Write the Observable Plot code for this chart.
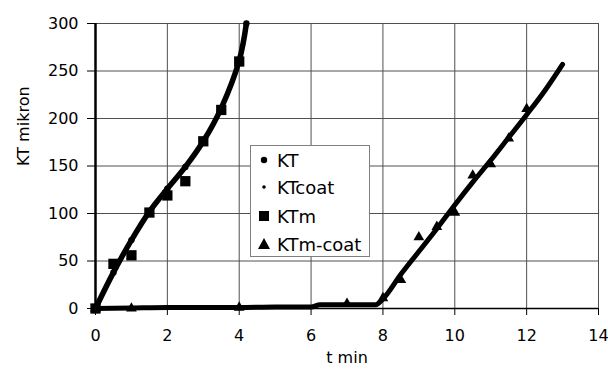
<!DOCTYPE html>
<html>
<head>
<meta charset="utf-8">
<script src="https://cdn.jsdelivr.net/npm/d3@7"></script>
<script src="https://cdn.jsdelivr.net/npm/@observablehq/plot@0.6"></script>
<style>
  html, body { margin: 0; padding: 0; background: white; }
  #wrap { position: relative; width: 608px; height: 370px; font-family: "DejaVu Sans", sans-serif; }
  #legend { position: absolute; left: 250px; top: 145px; width: 120px; height: 112px;
    box-sizing: border-box; border: 1px solid #808080; background: white; font-size: 18px; }
  .row { position: absolute; left: 0; height: 24px; display: flex; align-items: center; }
  .row svg { width: 26px; height: 24px; }
</style>
</head>
<body>
<div id="wrap"><div id="chart"></div>
<div id="legend">
  <div class="row" style="top:2px"><svg><circle cx="13" cy="12" r="3.2" fill="black"/></svg><span>KT</span></div>
  <div class="row" style="top:29px"><svg><circle cx="13" cy="12" r="1.8" fill="black"/></svg><span>KTcoat</span></div>
  <div class="row" style="top:58px"><svg><rect x="8" y="7" width="10" height="10" fill="black"/></svg><span>KTm</span></div>
  <div class="row" style="top:86px"><svg><path d="M13,6 L19,17 L7,17 Z" fill="black"/></svg><span>KTm-coat</span></div>
</div>
</div>
<script>
// ---- data ----
const xTicks = [0, 2, 4, 6, 8, 10, 12, 14];
const yTicks = [0, 50, 100, 150, 200, 250, 300];

const ktT = [0, 0.5, 1, 1.5, 2, 2.5, 3, 3.5, 4, 4.2];
const ktV = [0, 38, 72, 102, 126, 149, 176, 211, 261, 300];

const ktcoatT = [0, 1, 2, 3, 4, 5, 6, 6.25, 7, 7.8, 8, 8.5, 9, 9.5, 10, 10.5, 11, 11.5, 12, 12.5, 13];
const ktcoatV = [0, 0.5, 1, 1, 1, 1.5, 1.5, 4, 4, 4, 10, 36, 60, 84, 109, 133, 156, 180, 204, 229, 257];

const ktmT = [0, 0.5, 1, 1.5, 2, 2.5, 3, 3.5, 4];
const ktmV = [0, 47, 56, 101, 119, 134, 176, 209, 260];

const ktmcoatT = [0, 1, 4, 7, 8, 8.5, 9, 9.5, 10, 10.5, 11, 11.5, 12];
const ktmcoatV = [0, 0, 1, 5, 11, 30, 75, 86, 101, 140, 152, 179, 210];

const zip = (T, V) => T.map((t, i) => ({t, v: V[i]}));
const kt = zip(ktT, ktV), ktcoat = zip(ktcoatT, ktcoatV), ktm = zip(ktmT, ktmV), ktmcoat = zip(ktmcoatT, ktmcoatV);

const chart = Plot.plot({
  width: 608, height: 370,
  marginLeft: 95, marginRight: 10, marginTop: 23, marginBottom: 62,
  style: {fontFamily: "DejaVu Sans", fontSize: "16px", color: "black", background: "white", overflow: "visible"},
  x: {domain: [0, 14]},
  y: {domain: [0, 300]},
  marks: [
    Plot.gridX(xTicks, {stroke: "#505050", strokeOpacity: 1}),
    Plot.gridY(yTicks, {stroke: "#505050", strokeOpacity: 1}),
    Plot.axisX(xTicks, {tickSize: 7, tickPadding: 14, label: null, fontSize: 16}),
    Plot.axisY(yTicks, {tickSize: 8, tickPadding: 9, label: null, fontSize: 16}),
    Plot.ruleY([0], {stroke: "black", strokeWidth: 1.5}),
    Plot.ruleX([0], {stroke: "black", strokeWidth: 2.5}),
    Plot.line(ktcoat, {x: "t", y: "v", curve: "monotone-x", stroke: "black", strokeWidth: 5}),
    Plot.line(kt, {x: "t", y: "v", curve: "catmull-rom", stroke: "black", strokeWidth: 5.5}),
    Plot.dot(kt, {x: "t", y: "v", r: 3.2, fill: "black"}),
    Plot.dot(ktcoat, {x: "t", y: "v", r: 1.8, fill: "black"}),
    Plot.dot(ktm, {x: "t", y: "v", symbol: "square", r: 5.8, fill: "black"}),
    Plot.dot(ktmcoat, {x: "t", y: "v", symbol: "triangle", r: 4, fill: "black"}),
    Plot.text(["t min"], {frameAnchor: "bottom", dy: 54, fontSize: 16}),
    Plot.text(["KT mikron"], {frameAnchor: "left", rotate: -90, dx: -72, fontSize: 16})
  ]
});
document.getElementById("chart").appendChild(chart);
</script>
</body>
</html>
